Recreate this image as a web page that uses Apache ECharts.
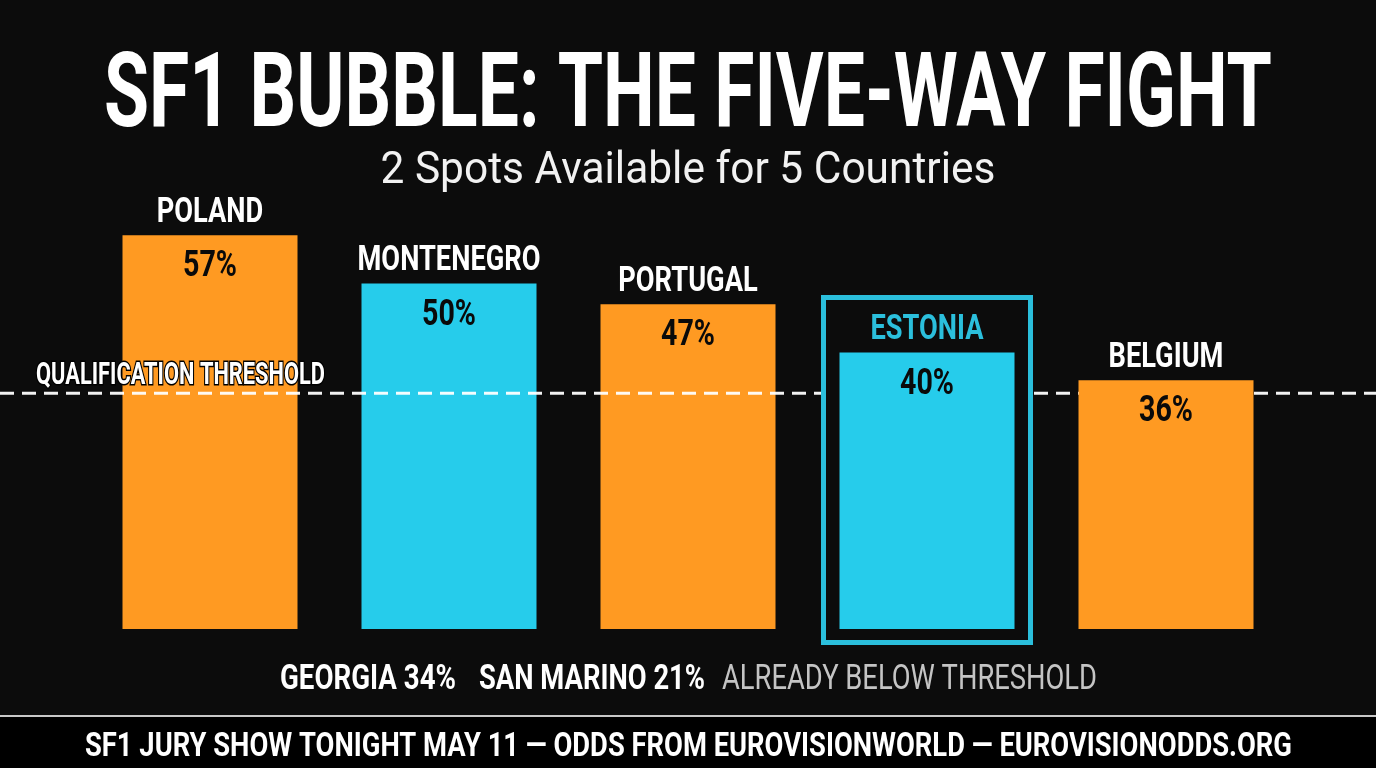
<!DOCTYPE html>
<html>
<head>
<meta charset="utf-8">
<title>SF1 Bubble</title>
<style>
  html, body { margin: 0; padding: 0; background: #0c0c0c; }
  #main { width: 1376px; height: 768px; }
</style>
<script src="https://cdn.jsdelivr.net/npm/echarts@6/dist/echarts.min.js"></script>
</head>
<body>
<div id="main"></div>
<script>
const countries = ["POLAND", "MONTENEGRO", "PORTUGAL", "ESTONIA", "BELGIUM"];
const odds = [57, 50, 47, 40, 36];
const barColors = ["#ff9a22", "#26cceb", "#ff9a22", "#26cceb", "#ff9a22"];
const nameColors = ["#ffffff", "#ffffff", "#ffffff", "#2bbfdc", "#ffffff"];
const threshold = 34.1;
const highlighted = 3;

const titleText = "SF1 BUBBLE: THE FIVE-WAY FIGHT";
const subtitleText = "2 Spots Available for 5 Countries";
const belowNotes = ["GEORGIA 34%", "SAN MARINO 21%", "ALREADY BELOW THRESHOLD"];
const thresholdText = "QUALIFICATION THRESHOLD";
const footerText = "SF1 JURY SHOW TONIGHT MAY 11 \u2014 ODDS FROM EUROVISIONWORLD \u2014 EUROVISIONODDS.ORG";

const sans = 'Roboto, "Liberation Sans", sans-serif';

// no condensed font is installed, so text gets squeezed to the wanted width
const measure = document.createElement("canvas").getContext("2d");
const fitScale = (text, font, width) => {
  measure.font = font;
  return width / measure.measureText(text).width;
};
const fitText = (text, font, fill, width, x, y, align) => ({
  type: "text",
  z: 10,
  x: x,
  y: y,
  scaleX: fitScale(text, font, width),
  style: { text: text, fill: fill, font: font, textAlign: align || "center", textVerticalAlign: "middle" },
});

const barItem = (i) => ({ value: odds[i], itemStyle: { color: barColors[i] } });
const gridBox = { top: 76.2, bottom: 139 };

const option = {
  backgroundColor: "#0c0c0c",
  animation: false,
  grid: [
    { left: 90.5, width: 1195, ...gridBox },
    { left: 0, right: 0, ...gridBox },
  ],
  xAxis: [
    { type: "category", data: countries, show: false, gridIndex: 0 },
    { type: "value", min: 0, max: 1, show: false, gridIndex: 1 },
  ],
  yAxis: [
    { type: "value", min: 0, max: 80, show: false, gridIndex: 0 },
    { type: "value", min: 0, max: 80, show: false, gridIndex: 1 },
  ],
  series: [
    // first three bars sit under the dashed line, the last two cover it
    {
      type: "bar",
      z: 2,
      barWidth: 175,
      barGap: "-100%",
      data: countries.map((c, i) => (i < highlighted ? barItem(i) : "-")),
    },
    {
      type: "line",
      z: 3,
      xAxisIndex: 1,
      yAxisIndex: 1,
      symbol: "none",
      lineStyle: { color: "#ffffff", width: 3, type: [14, 8], opacity: 0.95 },
      data: [[0, threshold], [1, threshold]],
    },
    {
      // frame round Estonia, also hides the dashed line
      type: "custom",
      z: 4,
      clip: false,
      data: [[highlighted, odds[highlighted]]],
      renderItem: (params, api) => {
        const top = api.coord([api.value(0), api.value(1)]);
        const base = api.coord([api.value(0), 0]);
        return {
          type: "rect",
          shape: { x: top[0] - 103.5, y: top[1] - 55, width: 207, height: base[1] - top[1] + 68.5 },
          style: { fill: "#0c0c0c", stroke: "#2bbfdc", lineWidth: 5 },
        };
      },
    },
    {
      type: "bar",
      z: 5,
      barWidth: 175,
      barGap: "-100%",
      data: countries.map((c, i) => (i >= highlighted ? barItem(i) : "-")),
    },
    {
      // country name above the bar, percent inside it
      type: "custom",
      z: 6,
      clip: false,
      silent: true,
      data: countries.map((c, i) => [i, odds[i]]),
      renderItem: (params, api) => {
        const i = params.dataIndex;
        const top = api.coord([api.value(0), api.value(1)]);
        const base = { type: "text", x: top[0] };
        const nameFont = "bold 35px " + sans;
        const pctFont = "bold 37px " + sans;
        return {
          type: "group",
          children: [
            {
              ...base,
              y: top[1] - 22,
              scaleX: fitScale("MONTENEGRO", nameFont, 183),
              style: {
                text: countries[i],
                fill: nameColors[i],
                font: nameFont,
                textAlign: "center",
                textVerticalAlign: "middle",
              },
            },
            {
              ...base,
              y: top[1] + 32,
              scaleX: fitScale("57%", pctFont, 54),
              style: {
                text: odds[i] + "%",
                fill: "#0a0a0a",
                font: pctFont,
                textAlign: "center",
                textVerticalAlign: "middle",
              },
            },
          ],
        };
      },
    },
    {
      type: "custom",
      z: 7,
      clip: false,
      silent: true,
      xAxisIndex: 1,
      yAxisIndex: 1,
      data: [[0, threshold]],
      renderItem: (params, api) => {
        const pos = api.coord([api.value(0), api.value(1)]);
        const font = "bold 31px " + sans;
        return {
          type: "text",
          x: pos[0] + 36,
          y: pos[1] - 17,
          scaleX: fitScale(thresholdText, font, 289),
          style: {
            text: thresholdText,
            fill: "#ffffff",
            font: font,
            stroke: "#000000",
            lineWidth: 3,
            strokeFirst: true,
            textAlign: "left",
            textVerticalAlign: "middle",
          },
        };
      },
    },
  ],
  graphic: [
    { type: "rect", z: 1, shape: { x: 0, y: 716, width: 1376, height: 52 }, style: { fill: "#000000" } },
    { type: "rect", z: 2, shape: { x: 0, y: 715, width: 1376, height: 2 }, style: { fill: "#c8c8c8" } },
    fitText(titleText, "bold 104px " + sans, "#ffffff", 1168, 688, 99.5),
    fitText(subtitleText, "400 44px " + sans, "#f2f2f2", 615, 688, 172),
    fitText(belowNotes[0], "bold 35px " + sans, "#ffffff", 176, 280, 680, "left"),
    fitText(belowNotes[1], "bold 35px " + sans, "#ffffff", 226, 479, 680, "left"),
    fitText(belowNotes[2], "400 35px " + sans, "#c4c4c4", 375, 722, 680, "left"),
    fitText(footerText, "bold 34px " + sans, "#ffffff", 1207, 688.5, 747),
  ],
};

const myChart = echarts.init(document.getElementById("main"));
myChart.setOption(option);
</script>
</body>
</html>
